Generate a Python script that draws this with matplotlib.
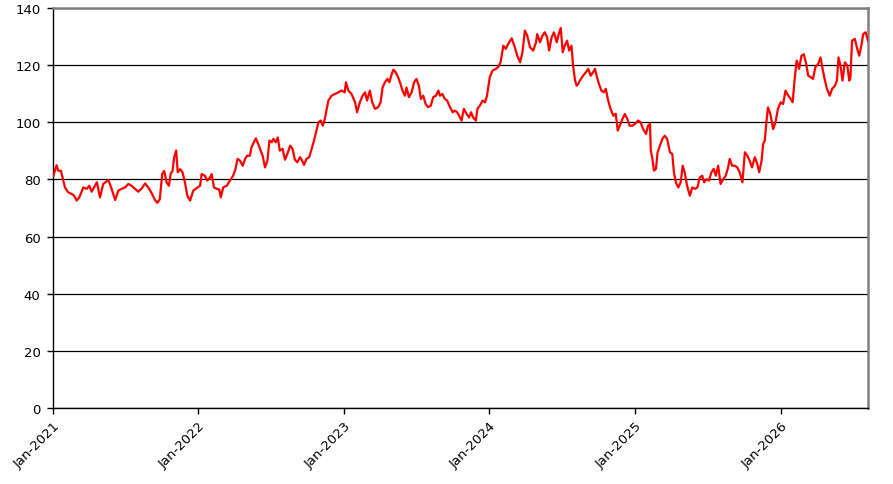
import matplotlib
matplotlib.use("Agg")
import matplotlib.pyplot as plt
import matplotlib.dates as mdates
import pandas as pd
import numpy as np

start_date = "2021-01-01"
end_day = 2045

days = [
    1, 9, 13, 20, 26, 30, 38, 47, 53, 59, 66, 76, 85, 91, 97, 110, 118, 126, 139, 147,
    156, 164, 172, 181, 189, 197, 206, 214, 223, 231, 239, 248, 256, 262, 268, 274, 279, 285, 291, 295,
    300, 304, 309, 313, 319, 325, 331, 337, 344,
    352, 360, 369, 373, 381, 387, 394, 398, 404, 411, 417, 421, 427, 436, 444, 452, 458, 463, 469, 476,
    482, 487, 494, 498, 504, 509, 515, 521, 526, 532, 538, 543, 549, 553, 559, 564, 569, 576, 582, 588,
    595, 601, 607, 613, 620, 625, 630, 636, 643, 649, 655, 660, 666, 672, 677, 682, 687, 691, 699, 707,
    716, 724, 732,
    735, 741, 749, 758, 763, 770, 777, 783, 788, 795, 801, 808, 816, 822, 827, 833, 839, 844, 850, 854,
    860, 866, 872, 877, 883, 887, 893, 900, 906, 912, 918, 923, 929, 935, 941, 948, 954, 961, 967, 971,
    977, 983, 989, 996, 1003, 1008, 1014, 1019, 1025, 1031, 1038, 1044, 1049, 1054, 1061, 1065, 1071, 1078, 1084, 1089,
    1096, 1103, 1111, 1117, 1123, 1130, 1136, 1142, 1151, 1159, 1165, 1172, 1178, 1184, 1190, 1197, 1205, 1212, 1215, 1222,
    1228, 1234, 1240, 1245, 1251, 1257, 1264, 1269, 1274, 1279, 1284, 1290, 1295, 1301, 1305, 1310, 1314, 1318, 1322, 1330,
    1337, 1343, 1349, 1355, 1360, 1364, 1370, 1376, 1382, 1387, 1393, 1399, 1406, 1412, 1417, 1422, 1429, 1435, 1441, 1447,
    1454, 1460, 1468,
    1474, 1481, 1488, 1493, 1498, 1500, 1504, 1508, 1513, 1517, 1523, 1529, 1535, 1541, 1548, 1554, 1558, 1563, 1569, 1575,
    1580, 1585, 1591, 1598, 1604, 1611, 1617, 1623, 1629, 1634, 1640, 1646, 1652, 1658, 1663, 1669, 1675, 1682, 1688, 1694,
    1698, 1704, 1711, 1717, 1723, 1730, 1736, 1742, 1748, 1754, 1761, 1767, 1772, 1778, 1782, 1786, 1790, 1794, 1800, 1807,
    1813, 1819, 1826, 1832, 1838, 1845, 1851, 1856, 1861, 1866, 1872, 1878, 1884, 1889, 1895, 1901, 1907, 1913, 1920, 1926,
    1931, 1937, 1942, 1949, 1955, 1962, 1967, 1971, 1976, 1981, 1987, 1993, 1998, 2001, 2005, 2012, 2018, 2023, 2029, 2033,
    2039, 2045,
]

values = [
    81.3, 85.0, 83.1, 83.0, 79.6, 77.2, 75.5, 74.9, 74.3, 72.6, 73.7, 77.2, 76.7, 77.8, 75.7, 79.0, 73.7, 78.4, 79.8, 76.7,
    72.8, 76.1, 76.7, 77.2, 78.4, 77.8, 76.7, 75.7, 76.9, 78.6, 77.2, 75.1, 72.8, 71.8, 73.1, 81.9, 83.0, 79.0, 77.8, 81.9,
    83.0, 87.7, 90.1, 82.5, 83.6, 82.5, 79.0, 74.3, 72.6,
    76.1, 76.9, 77.8, 81.9, 81.3, 79.6, 80.7, 81.9, 77.2, 76.7, 76.5, 73.7, 77.2, 77.8, 79.6, 81.3, 83.7, 87.2, 86.6, 84.8,
    87.2, 88.3, 88.3, 91.2, 93.0, 94.4, 92.4, 90.1, 88.3, 84.2, 86.6, 93.6, 93.0, 94.2, 93.0, 94.7, 90.1, 90.7, 86.9, 88.9,
    91.8, 90.7, 86.9, 86.0, 87.8, 86.6, 85.1, 87.2, 87.8, 90.7, 93.6, 96.5, 100.0, 100.6, 98.8, 101.2, 104.7, 107.6, 109.3, 109.9,
    110.5, 111.1, 110.5,
    114.0, 111.1, 109.9, 107.0, 103.5, 107.0, 109.3, 110.5, 107.6, 111.1, 107.0, 104.7, 105.3, 107.0, 112.2, 114.0, 115.2, 114.0, 116.9, 118.4,
    117.5, 115.8, 113.4, 111.1, 109.3, 112.2, 108.8, 110.5, 114.0, 115.2, 112.8, 108.2, 109.3, 106.4, 105.3, 105.8, 108.8, 109.3, 111.1, 109.3,
    109.9, 108.2, 107.6, 105.3, 103.5, 104.1, 103.5, 102.3, 100.6, 104.7, 102.9, 101.7, 103.5, 101.7, 100.6, 104.7, 105.8, 107.6, 107.0, 109.3,
    115.8, 118.1, 118.7, 119.3, 121.0, 126.8, 125.7, 127.4, 129.4, 126.2, 123.3, 121.0, 124.5, 132.1, 130.3, 126.2, 125.1, 128.0, 130.9, 128.0,
    130.3, 131.5, 129.7, 125.1, 129.7, 131.5, 128.0, 130.9, 133.0, 124.5, 126.8, 128.6, 125.1, 126.8, 119.8, 114.6, 112.8, 113.4, 114.6, 116.3,
    117.5, 118.7, 116.3, 117.5, 118.7, 116.3, 113.4, 111.1, 110.5, 111.7, 107.6, 104.7, 102.3, 103.0, 97.1, 98.8, 101.2, 102.9, 101.2, 98.8,
    98.8, 99.4, 100.6,
    100.0, 97.6, 95.9, 98.8, 99.4, 90.1, 87.2, 83.1, 83.7, 89.5, 91.8, 94.2, 95.3, 94.2, 89.5, 88.9, 82.5, 79.0, 77.2, 79.0,
    84.8, 82.5, 77.8, 74.3, 77.2, 76.7, 77.2, 80.7, 81.3, 79.0, 80.1, 79.6, 82.5, 83.7, 81.3, 84.8, 78.4, 80.1, 81.3, 84.2,
    87.2, 84.8, 84.8, 84.2, 82.5, 79.0, 89.5, 88.4, 86.6, 84.2, 87.8, 85.5, 82.5, 86.6, 92.4, 93.6, 100.0, 105.2, 102.9, 97.6,
    100.0, 104.7, 107.0, 106.4, 111.1, 109.3, 108.2, 107.0, 115.2, 121.6, 118.7, 123.3, 123.8, 121.0, 116.3, 115.8, 115.2, 119.3, 120.4, 122.7,
    118.7, 114.6, 111.7, 109.3, 111.7, 112.8, 114.6, 122.7, 119.8, 114.6, 121.0, 119.8, 114.6, 115.8, 128.6, 129.2, 125.7, 123.3, 127.4, 130.9,
    131.5, 128.6,
]

tick_labels = ["Jan-2021", "Jan-2022", "Jan-2023", "Jan-2024", "Jan-2025", "Jan-2026"]
tick_dates = ["2021-01-01", "2022-01-01", "2023-01-01", "2024-01-01", "2025-01-01", "2026-01-01"]
y_ticks = [0, 20, 40, 60, 80, 100, 120, 140]

base = pd.Timestamp(start_date)
dates = base + pd.to_timedelta(days, unit="D")

plt.rcParams['font.family'] = ['DejaVu Sans']

fig = plt.figure(figsize=(8.93, 4.85), dpi=100)
ax = fig.add_axes([53 / 893, 1 - 409 / 485, (868 - 53) / 893, (409 - 9) / 485])

ax.plot(dates, values, color="#ff0000", lw=1.6, zorder=3)

ax.set_ylim(0, 140)
ax.set_yticks(y_ticks)
ax.set_xlim(base, base + pd.Timedelta(days=end_day))
ax.set_xticks(pd.to_datetime(tick_dates))
ax.set_xticklabels(tick_labels, rotation=45, ha="right", va="top", rotation_mode="anchor")

ax.grid(axis="y", color="black", lw=0.9, zorder=1)
ax.set_axisbelow(True)

for s in ["top", "right"]:
    ax.spines[s].set_color("#808080")
    ax.spines[s].set_linewidth(1.8)
ax.spines["left"].set_color("black")
ax.spines["left"].set_linewidth(1.0)
ax.spines["bottom"].set_color("black")
ax.spines["bottom"].set_linewidth(1.0)

ax.tick_params(axis="both", direction="out", length=4, width=1, labelsize=9.5, colors="black")
ax.tick_params(axis="x", pad=4)
ax.tick_params(axis="y", pad=5)

fig.savefig("out.png", dpi=100)
